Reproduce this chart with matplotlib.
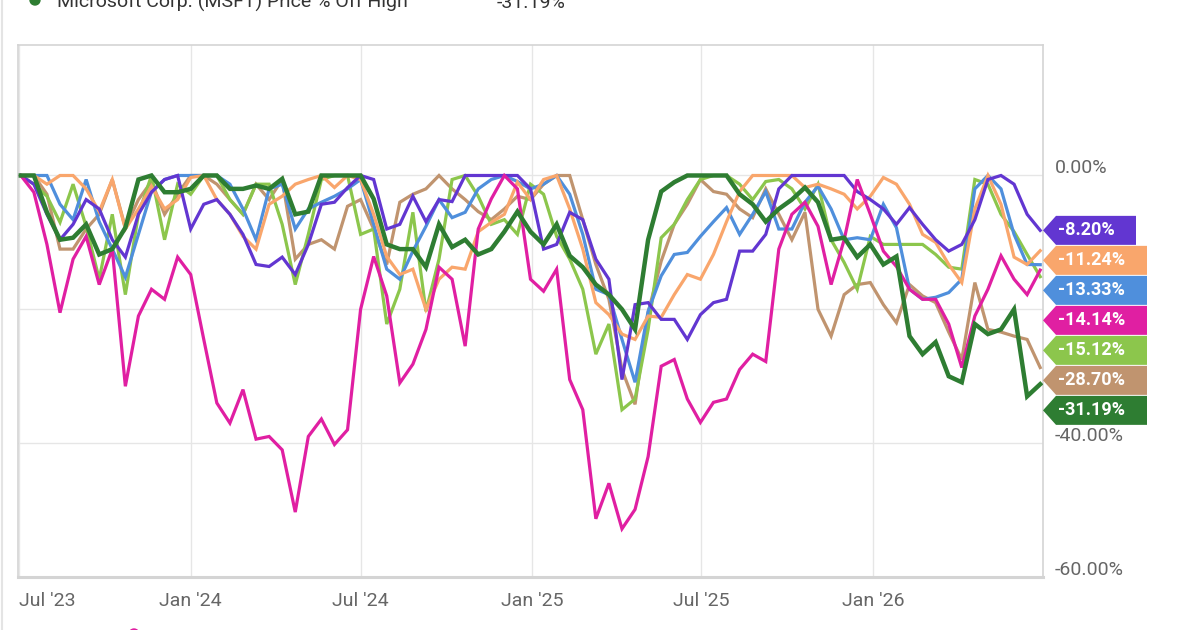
import matplotlib
matplotlib.use("Agg")
import matplotlib.pyplot as plt
from matplotlib.patches import Polygon, Ellipse
import pandas as pd

plt.rcParams['font.family'] = ['Roboto', 'DejaVu Sans']

# biweekly sample of "% off high" for each line
dates = pd.date_range("2023-07-03", periods=79, freq="14D")

purple = [0, -1.3, -5.8, -9.6, -7.3, -3.6, -5.0, -9.6, -12.2, -5.8,
          -2.5, -0.6, 0, -8.0, -4.3, -3.6, -5.8, -8.8, -13.3, -13.6,
          -12.2, -14.8, -10.3, -4.3, -4.0, -1.8, 0, -0.6, -8.0, -7.3,
          -3.1, -6.9, -3.6, -3.9, 0, 0, 0, 0, 0, -2.0,
          -11.0, -10.3, -5.5, -6.6, -12.5, -15.5, -30.5, -19.3, -19.0, -21.5,
          -21.5, -24.5, -20.8, -19.0, -18.5, -11.3, -11.3, -8.8, -2.0, 0,
          0, 0, 0, 0, -2.4, -3.6, -5.0, -7.3, -4.8, -7.3,
          -9.6, -11.3, -10.3, -6.6, -0.6, 0, -1.3, -5.8, -8.20]

orange = [0, 0, -1.3, 0, 0, -2.0, -5.4, -0.6, -8.0, -5.0,
          -1.6, -5.0, -3.6, -0.3, 0, -3.6, -5.8, -9.1, -11.0, -4.3,
          -3.1, -1.3, -0.6, 0, -1.8, 0, -0.6, -5.8, -12.1, -14.8,
          -14.0, -20.0, -15.5, -13.7, -14.0, -8.4, -7.0, -5.8, -1.0, -3.6,
          -0.6, 0, -5.0, -11.0, -19.0, -20.8, -23.7, -24.5, -21.0, -21.2,
          -17.8, -14.8, -15.5, -11.8, -6.9, -2.4, 0, 0, 0, 0,
          -1.8, -1.3, -2.0, -2.8, -5.0, -3.1, -0.3, -1.3, -4.3, -8.8,
          -10.0, -13.3, -16.0, -5.0, 0, -4.3, -12.2, -13.3, -11.24]

blue = [0, 0, 0, -4.3, -6.6, -0.6, -6.9, -11.0, -15.2, -8.8,
        -2.4, -0.6, 0, 0, 0, 0, -1.3, -5.0, -9.6, -2.0,
        -1.3, -8.0, -5.0, -4.0, -3.1, -2.0, -0.6, -7.3, -14.0, -15.5,
        -11.3, -7.6, -3.6, -6.3, -5.5, -2.0, -0.6, 0, -0.9, -2.0,
        -1.3, 0, -2.8, -8.8, -17.0, -17.8, -24.5, -30.9, -20.3, -15.0,
        -11.8, -11.5, -9.1, -6.9, -4.8, -8.8, -5.8, -2.4, -8.0, -8.0,
        -4.0, -1.6, -5.0, -9.6, -9.3, -9.6, -4.3, -7.8, -17.0, -18.5,
        -18.2, -17.5, -15.5, -2.0, 0, -2.0, -8.8, -13.3, -13.33]

pink = [0, -2.5, -10.3, -20.5, -12.5, -9.1, -16.3, -11.0, -31.5, -21.0,
        -17.0, -18.5, -12.2, -14.8, -24.5, -34.0, -37.0, -32.0, -39.4, -39.0,
        -41.0, -50.3, -39.0, -36.4, -40.2, -38.0, -20.0, -12.1, -18.0, -31.0,
        -28.2, -23.0, -13.7, -15.5, -25.5, -8.0, -3.5, 0, -2.0, -15.5,
        -17.3, -14.0, -30.5, -35.0, -51.3, -46.0, -52.8, -49.9, -42.0, -28.5,
        -27.5, -33.4, -36.9, -33.9, -33.4, -29.0, -26.7, -27.8, -11.0, -5.8,
        -4.0, -7.6, -16.3, -9.6, -0.6, -5.8, -11.3, -13.6, -17.0, -18.5,
        -18.5, -22.2, -28.7, -21.0, -17.0, -12.0, -15.5, -17.8, -14.14]

lgreen = [0, -1.3, -3.1, -7.0, -1.3, -7.6, -15.5, -5.8, -17.8, -5.8,
          0, -9.6, -1.3, -2.8, 0, 0, -3.6, -5.8, -1.3, -1.3,
          -7.3, -16.3, -8.8, -0.6, 0, 0, -8.8, -8.0, -22.2, -17.0,
          -5.5, -20.3, -12.5, -0.6, 0, -3.1, -7.3, -6.6, -8.8, -1.3,
          -2.8, -9.1, -12.5, -17.0, -26.7, -22.2, -35.0, -33.4, -23.0, -9.3,
          -7.3, -3.6, -0.6, 0, 0, -1.3, -3.6, -0.9, -0.6, -2.0,
          -5.0, -1.3, -9.6, -13.0, -17.0, -9.1, -10.3, -10.3, -10.3, -10.3,
          -11.8, -13.7, -14.0, -0.6, -1.3, -5.8, -8.4, -11.8, -15.12]

tan = [0, 0, -2.8, -11.0, -11.0, -8.0, -5.8, -0.6, -7.8, -3.6,
       -0.9, -5.8, -2.8, 0, 0, -1.3, -3.6, -5.8, -1.3, -3.6,
       -0.6, -12.5, -10.3, -9.6, -11.0, -4.6, -3.6, -8.0, -13.3, -4.0,
       -2.8, -2.0, 0, -2.0, -3.6, -5.4, -6.6, -5.0, -3.1, -3.6,
       -1.3, 0, 0, -6.6, -13.3, -18.5, -29.0, -34.2, -20.5, -12.8,
       -7.3, -4.3, -0.6, -2.4, -2.8, -5.0, -6.3, -2.0, -5.8, -9.6,
       -5.5, -20.0, -24.0, -17.8, -16.3, -16.0, -19.3, -22.0, -16.3, -18.0,
       -19.0, -23.4, -27.5, -16.0, -23.0, -23.4, -24.0, -24.5, -28.70]

msft = [0, 0, -5.5, -9.6, -9.3, -7.3, -11.8, -11.0, -7.8, -0.6,
        0, -2.5, -2.5, -2.0, 0, 0, -2.0, -2.0, -1.5, -2.0,
        -0.5, -5.8, -5.4, 0, 0, 0, 0, -3.5, -10.3, -11.0,
        -11.0, -13.7, -7.3, -10.7, -9.6, -11.8, -11.0, -8.4, -5.4, -8.4,
        -10.3, -7.3, -12.0, -13.7, -16.3, -17.8, -20.0, -23.0, -9.6, -2.4,
        -1.0, 0, 0, 0, 0, -2.8, -4.3, -6.9, -5.0, -3.6,
        -1.8, -4.0, -9.6, -9.3, -12.2, -10.3, -13.3, -12.1, -24.0, -26.7,
        -24.9, -30.0, -30.9, -22.2, -23.7, -23.0, -20.0, -33.0, -31.19]

# draw order: bottom first
series = [
    (tan, "#c0946f", 2.3),
    (lgreen, "#8cc64c", 2.3),
    (blue, "#4f8fdc", 2.3),
    (orange, "#f9a66c", 2.3),
    (purple, "#6236d1", 2.3),
    (pink, "#e01fa2", 2.3),
    (msft, "#2e7d32", 3.2),
]
badge_order = [purple, orange, blue, pink, lgreen, tan, msft]
badge_colors = ["#6236d1", "#f9a66c", "#4f8fdc", "#e01fa2", "#8cc64c", "#c0946f", "#2e7d32"]

x_ticks = pd.to_datetime(["2023-07-01", "2024-01-01", "2024-07-01", "2025-01-01",
                          "2025-07-01", "2026-01-01"])
x_labels = ["Jul '23", "Jan '24", "Jul '24", "Jan '25", "Jul '25", "Jan '26"]
y_grid = [0, -20, -40, -60]
y_labeled = [0, -40, -60]   # -20% label sits under the badges in the original

W, H = 1200, 630
fig = plt.figure(figsize=(W / 100, H / 100), dpi=100)
L, R, T, B = 18, 1043, 45, 577
ax = fig.add_axes([L / W, 1 - B / H, (R - L) / W, (B - T) / H])

for vals, col, lw in series:
    ax.plot(dates, vals, color=col, lw=lw, solid_joinstyle="miter", zorder=3)

ax.set_xlim(pd.Timestamp("2023-06-30"), pd.Timestamp("2026-07-02"))
ax.set_ylim(-60, 19.5)

ax.set_xticks(x_ticks)
ax.set_xticklabels(x_labels, fontsize=14, color="#666666")
ax.get_xticklabels()[0].set_ha("left")
ax.tick_params(axis="x", length=0, pad=11)
ax.set_yticks(y_grid)
ax.tick_params(axis="y", length=0, labelleft=False)
ax.grid(True, color="#e6e6e6", lw=1, zorder=0)

for s in ax.spines.values():
    s.set_color("#d4d4d4")
    s.set_linewidth(1.2)
ax.spines["bottom"].set_linewidth(2.2)

ytr = ax.get_yaxis_transform()
for v in y_labeled:
    ax.text(1.0117, v + 0.3, f"{v:.2f}%", transform=ytr, ha="left", va="baseline",
            fontsize=14, color="#666666", clip_on=False, zorder=1)

# stacked end-of-line badges
fig.canvas.draw()
prev = None
for vals, col in zip(badge_order, badge_colors):
    py = H - ax.transData.transform((0, vals[-1]))[1]
    if prev is not None and py < prev + 30:
        py = prev + 30
    prev = py
    label = f"{vals[-1]:.2f}%"
    right = 1136 if len(label) <= 6 else 1147
    hh = 14.5
    pts = [(R, py), (1056, py - hh), (right, py - hh), (right, py + hh), (1056, py + hh)]
    fig.add_artist(Polygon([(x / W, 1 - y / H) for x, y in pts], closed=True,
                           transform=fig.transFigure, facecolor=col, edgecolor="none",
                           zorder=10))
    fig.text(1058 / W, 1 - py / H, label, ha="left", va="center", fontsize=13,
             fontweight="bold", color="white", zorder=11)

# cut-off legend rows at top and bottom of the crop
fig.add_artist(Ellipse((35 / W, 1 - 0 / H), 10 / W, 10 / H, transform=fig.transFigure,
                       color="#2e7d32", zorder=5))
fig.text(57 / W, 1 - 8 / H, "Microsoft Corp. (MSFT) Price % Off High", ha="left",
         va="baseline", fontsize=14, color="#333333")
fig.text(497 / W, 1 - 8 / H, "-31.19%", ha="left", va="baseline", fontsize=14,
         color="#333333")
fig.add_artist(Ellipse((134 / W, 1 - 634 / H), 10 / W, 10 / H, transform=fig.transFigure,
                       color="#e01fa2", zorder=5))
fig.add_artist(plt.Line2D([2 / W, 2 / W], [0, 1], transform=fig.transFigure,
                          color="#e4e4e4", lw=1.5))

fig.savefig("out.png", dpi=100)
